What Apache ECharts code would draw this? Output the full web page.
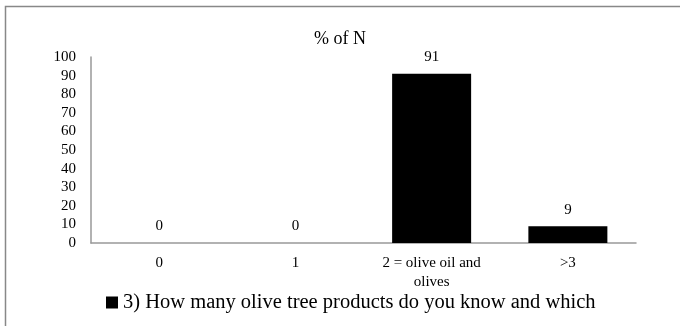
<!DOCTYPE html>
<html>
<head>
<meta charset="utf-8">
<script src="https://cdn.jsdelivr.net/npm/echarts@6/dist/echarts.min.js"></script>
<style>
  html, body { margin: 0; padding: 0; background: #fff; }
  #chart { width: 680px; height: 326px; }
</style>
</head>
<body>
<div id="chart"></div>
<script>
var categories = ['0', '1', '2 = olive oil and\nolives', '>3'];
var percentOfN = [0, 0, 91, 9];
var seriesName = '3) How many olive tree products do you know and which';
var yTicks = { min: 0, max: 100, step: 10 };

var serif = '"Liberation Serif", "DejaVu Serif", serif';
var myChart = echarts.init(document.getElementById('chart'));
var options = {
    backgroundColor: '#fff',
    animation: false,
    title: {
        text: '% of N',
        left: 'center',
        top: 25,
        textStyle: { fontFamily: serif, fontSize: 18, fontWeight: 'normal', color: '#000' }
    },
    graphic: [{
        type: 'rect',
        shape: { x: 5.5, y: 6.5, width: 800, height: 400 },
        style: { fill: 'none', stroke: '#888', lineWidth: 1.5 },
        silent: true
    }],
    legend: {
        data: [seriesName],
        top: 287,
        left: 101,
        icon: 'rect',
        itemWidth: 12,
        itemHeight: 12,
        itemGap: 4,
        itemStyle: { borderWidth: 0 },
        textStyle: { fontFamily: serif, fontSize: 20.5, color: '#000' }
    },
    grid: { left: 91, right: 44, top: 57, bottom: 83 },
    xAxis: {
        type: 'category',
        data: categories,
        axisLine: { lineStyle: { color: '#999', width: 1.5 } },
        axisTick: { show: false },
        axisLabel: { fontFamily: serif, fontSize: 15, color: '#000', margin: 11, lineHeight: 19 }
    },
    yAxis: {
        type: 'value',
        min: yTicks.min,
        max: yTicks.max,
        interval: yTicks.step,
        splitLine: { show: false },
        axisLine: { show: true, lineStyle: { color: '#999', width: 1.5 } },
        axisTick: { show: false },
        axisLabel: { fontFamily: serif, fontSize: 15, color: '#000', margin: 15 }
    },
    series: [{
        name: seriesName,
        type: 'bar',
        data: percentOfN,
        barWidth: 79,
        itemStyle: { color: '#000', borderWidth: 0 },
        label: {
            show: true,
            position: 'top',
            distance: 9,
            fontFamily: serif,
            fontSize: 15,
            color: '#000'
        }
    }]
};
myChart.setOption(options, true);
</script>
</body>
</html>
